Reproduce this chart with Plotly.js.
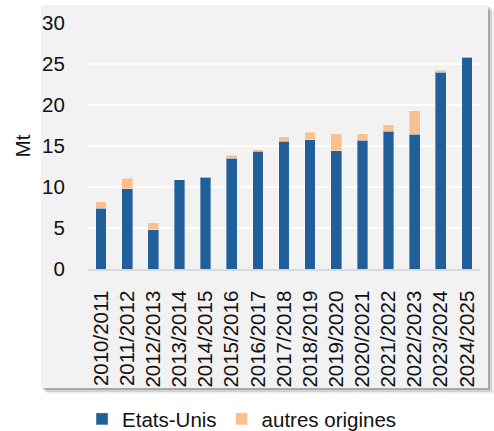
<!DOCTYPE html>
<html><head><meta charset="utf-8">
<script src="https://cdn.plot.ly/plotly-3.0.1.min.js"></script>
<style>html,body{margin:0;padding:0;background:#fff}</style>
</head><body><div id="chart" style="width:494px;height:431px"></div>
<script>
const campaigns = ["2010/2011","2011/2012","2012/2013","2013/2014","2014/2015","2015/2016","2016/2017","2017/2018","2018/2019","2019/2020","2020/2021","2021/2022","2022/2023","2023/2024","2024/2025"];
const etatsUnis = [7.4, 9.8, 4.8, 10.9, 11.2, 13.5, 14.35, 15.55, 15.75, 14.45, 15.7, 16.8, 16.45, 24.0, 25.8];
const autresOrigines = [0.8, 1.25, 0.85, 0.0, 0.05, 0.4, 0.2, 0.6, 0.9, 2.05, 0.8, 0.8, 2.85, 0.25, 0.1];
const yTicks = [0, 5, 10, 15, 20, 25, 30];

const blue = "#215F9A", peach = "#FAC090";
const font = {family: "Liberation Sans, Arial, sans-serif", size: 20.5, color: "#111"};

const traces = [
  {type: "bar", name: "Etats-Unis", x: campaigns, y: etatsUnis,
   marker: {color: blue, line: {color: "rgba(255,255,255,0.35)", width: 1}}},
  {type: "bar", name: "autres origines", x: campaigns, y: autresOrigines,
   marker: {color: peach, line: {color: "rgba(255,255,255,0.35)", width: 1}}}
];

const bx0 = -0.12, bx1 = 1.0204, by0 = -0.4837, by1 = 1.0732;
const px = 1/392, py = 1/246;
const shapes = [
  {type: "rect", xref: "paper", yref: "paper", layer: "below", x0: bx0 + 6*px, x1: bx1 + 6*px, y0: by0 - 6*py, y1: by1 - 6*py, fillcolor: "rgba(0,0,0,0.06)", line: {width: 0}},
  {type: "rect", xref: "paper", yref: "paper", layer: "below", x0: bx0 + 4*px, x1: bx1 + 4*px, y0: by0 - 4*py, y1: by1 - 4*py, fillcolor: "rgba(0,0,0,0.12)", line: {width: 0}},
  {type: "rect", xref: "paper", yref: "paper", layer: "below", x0: bx0 + 2*px, x1: bx1 + 2*px, y0: by0 - 2*py, y1: by1 - 2*py, fillcolor: "rgba(0,0,0,0.2)", line: {width: 0}},
  {type: "rect", xref: "paper", yref: "paper", layer: "below", x0: bx0, x1: bx1, y0: by0, y1: by1, fillcolor: "#F2F2F2", line: {width: 0}}
];

const layout = {
  width: 494, height: 431,
  margin: {l: 88, r: 14, t: 23, b: 162, autoexpand: false},
  paper_bgcolor: "#fff", plot_bgcolor: "rgba(0,0,0,0)",
  barmode: "stack", bargap: 0.59,
  font: font,
  shapes: shapes,
  xaxis: {type: "category", tickangle: -90, ticks: "outside", ticklen: 12, tickcolor: "rgba(0,0,0,0)", automargin: false,
          showgrid: false, showline: true, linecolor: "#D9D9D9", linewidth: 1.5, tickfont: font},
  yaxis: {range: [0, 30], tickvals: yTicks, ticks: "outside", ticklen: 18, tickcolor: "rgba(0,0,0,0)", automargin: false,
          showgrid: true, gridcolor: "#FFFFFF", gridwidth: 2, zeroline: false, showline: false,
          tickfont: font, title: {text: "Mt", font: font, standoff: 5}},
  showlegend: true,
  legend: {orientation: "h", x: 0.393, xanchor: "center", y: -0.61, yanchor: "middle", font: font,
           bgcolor: "rgba(0,0,0,0)", itemwidth: 30, traceorder: "normal"}
};
Plotly.newPlot("chart", traces, layout, {displayModeBar: false, staticPlot: true});
</script></body></html>
